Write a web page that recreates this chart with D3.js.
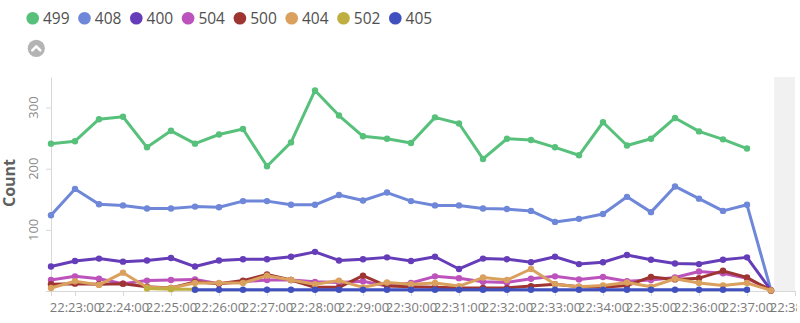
<!DOCTYPE html>
<html><head><meta charset="utf-8">
<script src="https://cdn.jsdelivr.net/npm/d3@7"></script>
<style>
html,body{margin:0;padding:0;background:#fff;overflow:hidden}
svg{display:block;font-family:"Open Sans",sans-serif}
</style></head><body>
<svg id="chart" width="797" height="323"></svg>
<script>
// 30-second buckets
const times = ["22:22:30","22:23:00","22:23:30","22:24:00","22:24:30","22:25:00","22:25:30","22:26:00",
  "22:26:30","22:27:00","22:27:30","22:28:00","22:28:30","22:29:00","22:29:30","22:30:00","22:30:30",
  "22:31:00","22:31:30","22:32:00","22:32:30","22:33:00","22:33:30","22:34:00","22:34:30","22:35:00",
  "22:35:30","22:36:00","22:36:30","22:37:00","22:37:30"];
const domainStart = "22:22:30", domainEnd = "22:38:00", partialStart = "22:37:34";

// counts per status code (null = no bucket)
const s499 = [241,245,281,285,235,262,241,256,265,204,243,328,287,253,249,242,284,274,216,249,247,235,222,276,238,249,283,261,248,233,null];
const s408 = [124,167,142,140,135,135,138,137,147,147,141,141,157,148,161,147,140,140,135,134,131,113,118,126,154,129,171,151,131,141,1];
const s400 = [40,49,53,48,50,54,40,50,52,52,56,64,50,52,55,49,56,36,53,52,47,56,44,47,59,51,45,44,51,55,1];
const s504 = [18,24,20,12,17,18,19,12,15,18,18,15,14,16,8,13,24,21,15,14,20,24,19,23,16,18,22,32,29,21,1];
const s500 = [11,12,11,12,7,5,15,12,17,27,18,6,6,25,8,7,6,5,5,5,8,11,7,6,9,23,19,21,33,22,1];
const s404 = [5,16,10,30,6,5,13,13,13,25,18,11,17,6,14,11,13,8,22,18,36,11,7,9,14,7,20,13,9,13,1];
const s502 = [null,null,null,null,4,3,3,null,null,null,null,null,null,null,null,null,null,null,null,null,null,null,null,null,null,null,null,null,null,null,null];
const s405 = [null,null,null,null,null,null,2,2,2,2,2,2,2,2,2,2,2,2,2,2,2,2,2,2,2,2,2,2,2,2,null];

const codes = ["499","408","400","504","500","404","502","405"];
const colors = ["#57c17b","#6f87d8","#663db8","#bc52bc","#9e3533","#daa05d","#bfaf40","#4050bf"];
const seriesValues = [s499,s408,s400,s504,s500,s404,s502,s405];
const yTicks = [0,100,200,300];

const parse = d3.timeParse("%H:%M:%S");
const svg = d3.select("#chart");

const x = d3.scaleTime().domain([parse(domainStart), parse(domainEnd)]).range([51, 795]);
const y = d3.scaleLinear().domain([0, 350]).range([291, 77]);

// legend
const legend = svg.append("g");
codes.forEach((c, i) => {
  const cx = 32.7 + i * 51.8;
  legend.append("circle").attr("cx", cx).attr("cy", 18.3).attr("r", 6.3).attr("fill", colors[i]);
  legend.append("text").attr("x", cx + 10.3).attr("y", 18.3).attr("dy", "0.35em")
    .attr("font-size", 15.5).attr("fill", "#505050").text(c);
});

// collapse toggle
const tog = svg.append("g").attr("transform", "translate(36.3,48.3)");
tog.append("circle").attr("r", 8.6).attr("fill", "#b4b4b4");
tog.append("path").attr("d", "M-4,2 L0,-2 L4,2").attr("fill", "none")
  .attr("stroke", "#fff").attr("stroke-width", 2.6).attr("stroke-linecap", "round").attr("stroke-linejoin", "round");

// partial bucket shading
svg.append("rect").attr("x", x(parse(partialStart))).attr("y", y(350))
  .attr("width", x(parse(domainEnd)) - x(parse(partialStart))).attr("height", y(0) - y(350))
  .attr("fill", "#f1f1f1");

// y axis
const yAxis = svg.append("g").attr("transform", "translate(51,0)")
  .call(d3.axisLeft(y).tickValues(yTicks).tickSize(5).tickSizeOuter(0).tickFormat(""));
yAxis.selectAll("path,line").attr("stroke", "#d8d8d8");
yTicks.filter(v => v > 0).forEach(v => {
  svg.append("text").attr("transform", `translate(38,${y(v)}) rotate(-90)`)
    .attr("text-anchor", "middle").attr("font-size", 13).attr("fill", "#8a8a8a").text(v);
});
svg.append("text").attr("transform", "translate(14.5,183) rotate(-90)")
  .attr("text-anchor", "middle").attr("font-size", 16).attr("font-weight", "bold")
  .attr("fill", "#606060").text("Count");

// x axis
const xAxis = svg.append("g").attr("transform", "translate(0,291)")
  .call(d3.axisBottom(x).ticks(d3.timeMinute.every(1)).tickFormat(d3.timeFormat("%H:%M:%S"))
    .tickSize(5).tickSizeOuter(5));
xAxis.selectAll("path,line").attr("stroke", "#d8d8d8");
xAxis.selectAll("text").attr("y", 12).attr("font-size", 13).attr("fill", "#7a7a7a")
  .attr("font-family", "'Open Sans',sans-serif");

// lines and points
const line = d3.line().defined(d => d.v != null).x(d => x(d.t)).y(d => y(d.v));
seriesValues.forEach((vals, k) => {
  const pts = vals.map((v, i) => ({t: parse(times[i]), v}));
  const g = svg.append("g");
  g.append("path").datum(pts).attr("d", line).attr("fill", "none")
    .attr("stroke", colors[k]).attr("stroke-width", 3).attr("stroke-linejoin", "round");
  g.selectAll("circle").data(pts.filter(d => d.v != null)).join("circle")
    .attr("cx", d => x(d.t)).attr("cy", d => y(d.v)).attr("r", 3.2).attr("fill", colors[k]);
});
</script></body></html>
